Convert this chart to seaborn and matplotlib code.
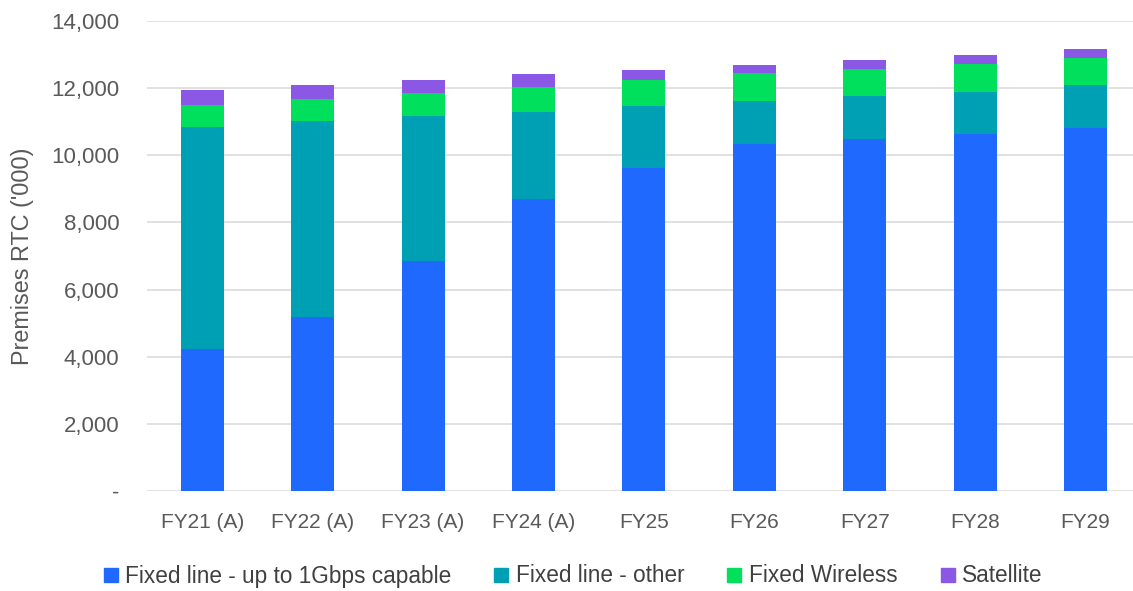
import numpy as np
import pandas as pd
import matplotlib
matplotlib.use("Agg")
import matplotlib.pyplot as plt
from matplotlib.lines import Line2D
from matplotlib.ticker import FuncFormatter
import seaborn as sns

# Premises ready to connect ('000) by technology
years = ["FY21 (A)", "FY22 (A)", "FY23 (A)", "FY24 (A)", "FY25", "FY26", "FY27", "FY28", "FY29"]
fixed_1gbps = [4240, 5190, 6850, 8710, 9620, 10330, 10490, 10620, 10810]
fixed_other = [6590, 5830, 4310, 2590, 1840, 1280, 1270, 1280, 1280]
fixed_wireless = [670, 660, 690, 720, 790, 840, 820, 830, 810]
satellite = [430, 420, 400, 390, 300, 250, 260, 260, 270]

series_names = ["Fixed line - up to 1Gbps capable", "Fixed line - other", "Fixed Wireless", "Satellite"]
series_values = [fixed_1gbps, fixed_other, fixed_wireless, satellite]
colors = ["#1F69FF", "#00A0B4", "#00E05C", "#8B58E6"]

yticks = [0, 2000, 4000, 6000, 8000, 10000, 12000, 14000]

sns.set_theme(style="white")
plt.rcParams["font.family"] = ["Liberation Sans", "DejaVu Sans"]

df = pd.DataFrame({"year": years})
for name, vals in zip(series_names, series_values):
    df[name] = vals
cum = df[series_names].cumsum(axis=1)

fig = plt.figure(figsize=(11.33, 5.91), dpi=100)
ax = fig.add_axes([147 / 1133, 1 - 491 / 591, 1 - 147 / 1133, (491 - 21) / 591])

# stacked bars: draw cumulative totals from the top layer down
for name, color in reversed(list(zip(series_names, colors))):
    sns.barplot(x=df["year"], y=cum[name], color=color, width=0.39,
                saturation=1, ax=ax, order=years, zorder=3, linewidth=0)

ax.set_ylim(0, 14000)
ax.set_xlim(-0.5, 8.43)
ax.set_yticks(yticks)
ax.yaxis.set_major_formatter(FuncFormatter(lambda v, p: "-" if v == 0 else f"{int(v):,}"))
ax.grid(axis="y", color="#D9D9D9", linewidth=1.1, zorder=0)
ax.grid(axis="x", visible=False)
for s in ax.spines.values():
    s.set_visible(False)
ax.tick_params(axis="both", length=0, colors="#595959")
ax.tick_params(axis="y", pad=20, labelsize=16)
ax.tick_params(axis="x", pad=16, labelsize=15)
ax.set_xlabel("")
ax.set_ylabel("Premises RTC ('000)", fontsize=16.8, color="#595959", labelpad=12)

handles = [Line2D([0], [0], marker="s", linestyle="none", markersize=10,
                  markerfacecolor=c, markeredgecolor=c) for c in colors]
fig.legend(handles, series_names, loc="center", bbox_to_anchor=(0.506, 1 - 576 / 591),
           ncol=4, frameon=False, fontsize=16.3, labelcolor="#404040",
           handlelength=0.6, handletextpad=0.35, columnspacing=1.9)

fig.savefig("out.png", dpi=100, facecolor="white")
